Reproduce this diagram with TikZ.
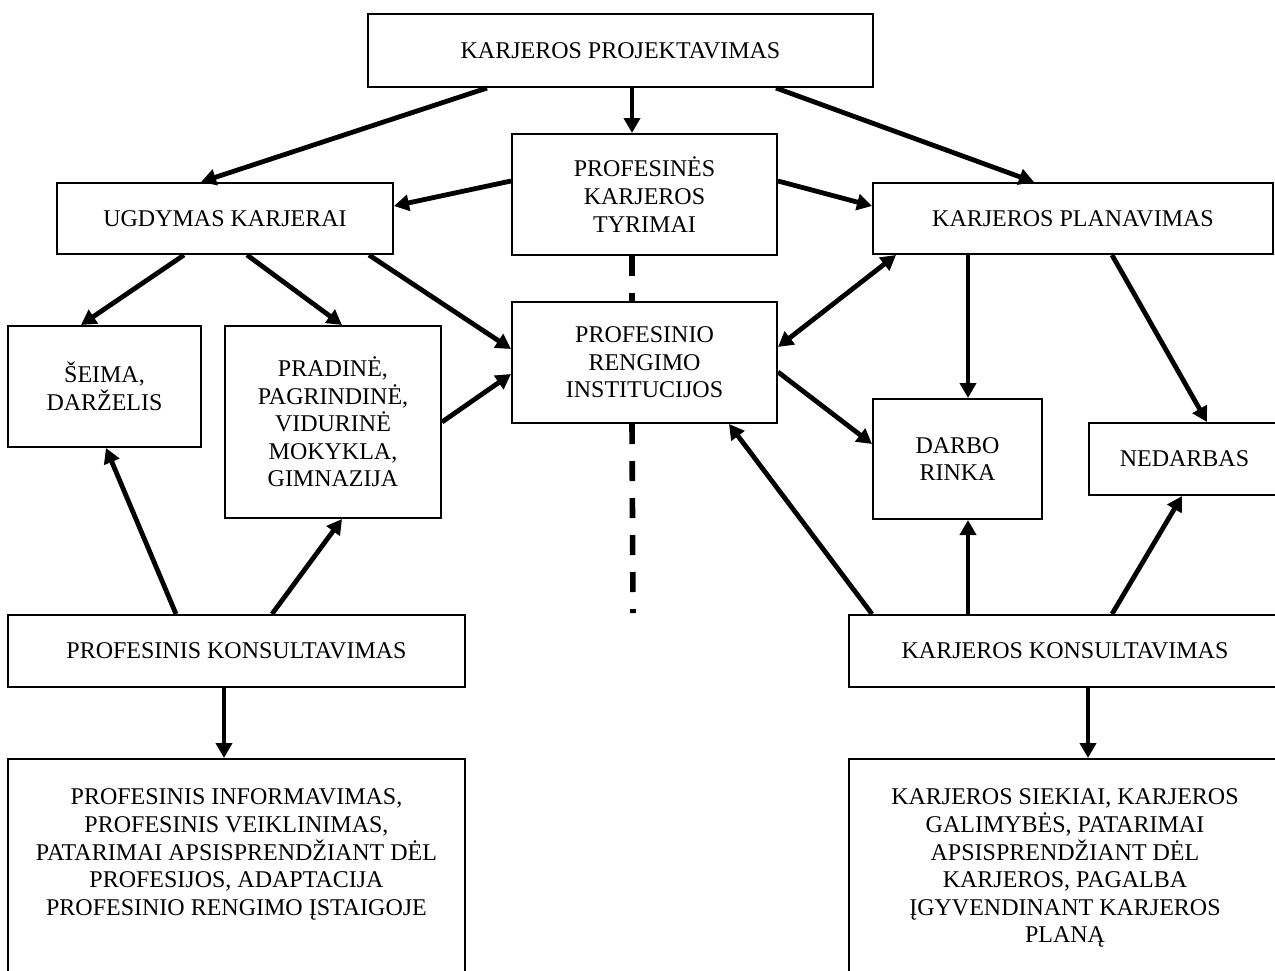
\documentclass[tikz,border=0pt]{standalone}
\usepackage{fontspec}
\setmainfont{Liberation Serif}
\usetikzlibrary{arrows.meta,calc}

\begin{document}
\begin{tikzpicture}[x=0.5pt, y=-0.5pt,
  box/.style={draw, line width=1pt, inner sep=0pt, align=center,
    font=\fontsize{12}{13.8}\selectfont},
  arr/.style={line width=2.4pt, -{Triangle[length=7.5pt,width=8pt]}},
  darr/.style={line width=2.4pt, {Triangle[length=7.5pt,width=8pt]}-{Triangle[length=7.5pt,width=8pt]}},
  dashline/.style={line width=2.8pt, dash pattern=on 10pt off 8.5pt}]
  \useasboundingbox (0,0) rectangle (1275,970);
  \clip (0,0) rectangle (1275,970);

  \node[box, minimum width=252.5pt, minimum height=36.5pt] (proj) at (620.5,50.5) {KARJEROS PROJEKTAVIMAS};
  \node[box, minimum width=132.5pt, minimum height=60.5pt] (tyr) at (644.5,194.5) {PROFESINĖS\\KARJEROS\\TYRIMAI};
  \node[box, minimum width=168pt, minimum height=35.5pt] (ugd) at (225,218.5) {UGDYMAS KARJERAI};
  \node[box, minimum width=200pt, minimum height=35.5pt] (plan) at (1073,218.5) {KARJEROS PLANAVIMAS};
  \node[box, minimum width=96.5pt, minimum height=60.5pt] (seima) at (104.5,386.5) {ŠEIMA,\\DARŽELIS};
  \node[box, minimum width=108pt, minimum height=96pt] (prad) at (333,422) {PRADINĖ,\\PAGRINDINĖ,\\VIDURINĖ\\MOKYKLA,\\GIMNAZIJA};
  \node[box, minimum width=132.5pt, minimum height=60.5pt] (inst) at (644.5,362.5) {PROFESINIO\\RENGIMO\\INSTITUCIJOS};
  \node[box, minimum width=84.5pt, minimum height=60pt] (darbo) at (957.5,459) {DARBO\\RINKA};
  \node[box, minimum width=95.5pt, minimum height=36pt] (ned) at (1184.5,459) {NEDARBAS};
  \node[box, minimum width=228.5pt, minimum height=36pt] (pkons) at (236.5,651) {PROFESINIS KONSULTAVIMAS};
  \node[box, minimum width=216pt, minimum height=36pt] (kkons) at (1065,651) {KARJEROS KONSULTAVIMAS};
  \node[box, minimum width=228.5pt, inner ysep=15pt, anchor=north] (pinfo) at (236.5,758)
    {\parbox[t][110pt][t]{220pt}{\centering PROFESINIS INFORMAVIMAS,\\PROFESINIS VEIKLINIMAS,\\PATARIMAI APSISPRENDŽIANT DĖL\\PROFESIJOS, ADAPTACIJA\\PROFESINIO RENGIMO ĮSTAIGOJE}};
  \node[box, minimum width=216pt, inner ysep=15pt, anchor=north] (kinfo) at (1065,758)
    {\parbox[t][110pt][t]{210pt}{\centering KARJEROS SIEKIAI, KARJEROS\\GALIMYBĖS, PATARIMAI\\APSISPRENDŽIANT DĖL\\KARJEROS, PAGALBA\\ĮGYVENDINANT KARJEROS\\PLANĄ}};
  \coordinate (dashend) at (633,613);

  % dashed divider
  \draw[dashline] ($(tyr.south west)+(121,0)$) -- ($(inst.north west)+(121,0)$);
  \draw[dashline] ($(inst.south west)+(121,0)$) -- (dashend);

  \path[arr]
    ($(proj.south west)+(120,0)$) edge ($(ugd.north west)+(145,0)$)
    ($(proj.south west)+(265,0)$) edge ($(tyr.north west)+(121,0)$)
    ($(proj.south west)+(409,0)$) edge ($(plan.north west)+(162,0)$)
    ($(tyr.north west)+(0,48)$) edge ($(ugd.north east)+(0,24)$)
    ($(tyr.north east)+(0,48)$) edge ($(plan.north west)+(0,24)$)
    ($(ugd.south west)+(128,0)$) edge ($(seima.north west)+(74,0)$)
    ($(ugd.south west)+(191,0)$) edge ($(prad.north west)+(118,0)$)
    ($(ugd.south west)+(313,0)$) edge ($(inst.north west)+(0,48)$)
    ($(prad.north east)+(0,97)$) edge ($(inst.north west)+(0,73)$)
    ($(inst.north east)+(0,71)$) edge ($(darbo.north west)+(0,46)$)
    ($(plan.south west)+(96,0)$) edge ($(darbo.north west)+(96,0)$)
    ($(plan.south west)+(240,0)$) edge ($(ned.north west)+(119,0)$)
    ($(kkons.north west)+(24,0)$) edge ($(inst.south west)+(218,0)$)
    ($(kkons.north west)+(120,0)$) edge ($(darbo.south west)+(96,0)$)
    ($(kkons.north west)+(264,0)$) edge ($(ned.south west)+(94,0)$)
    ($(kkons.south west)+(240,0)$) edge ($(kinfo.north west)+(240,0)$)
    ($(pkons.north west)+(169,0)$) edge ($(seima.south west)+(99,0)$)
    ($(pkons.north west)+(265,0)$) edge ($(prad.south west)+(118,0)$)
    ($(pkons.south west)+(217,0)$) edge ($(pinfo.north west)+(217,0)$);
  \path[darr]
    ($(inst.north east)+(0,46)$) edge ($(plan.south west)+(24,0)$);
\end{tikzpicture}
\end{document}
